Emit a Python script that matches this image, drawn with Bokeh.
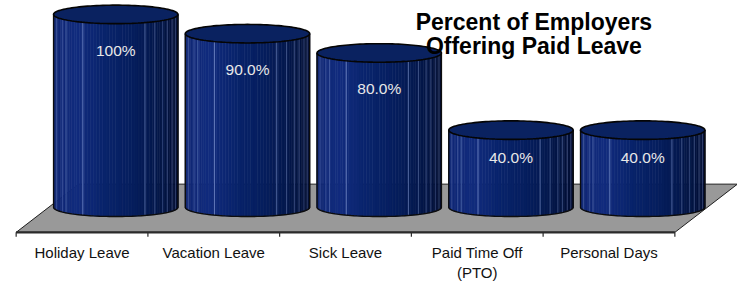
import numpy as np
from bokeh.plotting import figure
from bokeh.models import Range1d
from bokeh.core.properties import value
from bokeh.embed import file_html
from bokeh.resources import INLINE

# ---- data ----
categories = ["Holiday Leave", "Vacation Leave", "Sick Leave", "Paid Time Off\n(PTO)", "Personal Days"]
percent = [100, 90, 80, 40, 40]
value_labels = ["100%", "90.0%", "80.0%", "40.0%", "40.0%"]
title_lines = ["Percent of Employers", "Offering Paid Leave"]

# ---- geometry / style ----
W, H = 737, 282
x_range = Range1d(-16 / 134.6, 737 / 134.6)
y_range = Range1d(-39.0, 107.2)
PY = H / (y_range.end - y_range.start)   # px per percent

DEPTH_X = 0.475      # floor depth (x shift) in category units
FLOOR_FRONT = -13.0
FLOOR_BACK = 12.0
CYL_SHIFT = 0.256    # cylinders stand halfway in depth
R = 0.472            # cylinder half width (category units)
E = 4.8              # ellipse half height (percent units)

FONT = "Liberation Sans"

p = figure(width=W, height=H, x_range=x_range, y_range=y_range,
           output_backend="svg", toolbar_location=None, min_border=0,
           outline_line_color=None, background_fill_color="white",
           border_fill_color="white")
p.axis.visible = False
p.grid.visible = False

n = len(categories)

# floor
p.patch([0, n, n + DEPTH_X, DEPTH_X], [FLOOR_FRONT, FLOOR_FRONT, FLOOR_BACK, FLOOR_BACK],
        fill_color="#999999", line_color="#1e1e1e", line_width=1)
p.line([0, n], [FLOOR_FRONT, FLOOR_FRONT], line_color="#2b2b2b", line_width=2.2)
tick_x = list(range(n + 1))
p.segment(x0=tick_x, y0=[FLOOR_FRONT] * (n + 1), x1=tick_x,
          y1=[FLOOR_FRONT - 4.5 / PY] * (n + 1), line_color="#2b2b2b", line_width=1.2)

# shading stops across the visible face (u = sin(theta))
stops_u = [-1.0, -0.6, -0.2, 0.2, 0.5, 0.8, 1.0]
stops_c = [(16, 40, 118), (18, 44, 126), (9, 36, 108), (6, 31, 96),
           (5, 27, 84), (4, 21, 68), (3, 15, 52)]

def shade(u):
    r = np.interp(u, stops_u, [c[0] for c in stops_c])
    g = np.interp(u, stops_u, [c[1] for c in stops_c])
    b = np.interp(u, stops_u, [c[2] for c in stops_c])
    return "#%02x%02x%02x" % (int(r), int(g), int(b))

facet_angles = [-72, -59, -53, -32, 28, 39, 49, 56, 65, 74]
facet_alpha = [0.3, 0.3, 0.4, 0.65, 0.55, 0.4, 0.35, 0.35, 0.3, 0.3]

th = np.radians(np.linspace(-90, 90, 61))
full = np.radians(np.linspace(0, 360, 121))

for i, v in enumerate(percent):
    cx = i + 0.5 + CYL_SHIFT
    xs, ys, cols = [], [], []
    for a, b in zip(th[:-1], th[1:]):
        xa, xb = cx + R * np.sin(a), cx + R * np.sin(b)
        ya, yb = -E * np.cos(a), -E * np.cos(b)
        xs.append([xa, xb, xb, xa])
        ys.append([ya, yb, v, v])
        cols.append(shade(np.sin((a + b) / 2)))
    p.patches(xs, ys, fill_color=cols, line_color=cols, line_width=0.6)

    # facet highlight lines
    for ang, al in zip(facet_angles, facet_alpha):
        t = np.radians(ang)
        fx = cx + R * np.sin(t)
        p.line([fx, fx], [-E * np.cos(t), v - E * np.cos(t)],
               line_color="#8aa0d8", line_alpha=al, line_width=1)

    # outline of body: left edge, bottom arc, right edge
    ox = [cx - R] + list(cx + R * np.sin(th)) + [cx + R]
    oy = [v] + list(-E * np.cos(th)) + [v]
    p.line(ox, oy, line_color="#0d0d0d", line_width=1.4)

    # top ellipse
    p.patch(cx + R * np.cos(full), v + E * np.sin(full),
            fill_color="#0a2260", line_color="#050505", line_width=1.6)

# value labels inside cylinders
lab_x = [i + 0.5 + CYL_SHIFT for i in range(n)]
lab_y = [v - min(18.5, 0.36 * v) for v in percent]
p.text(x=lab_x, y=lab_y, text=value_labels, text_align="center", text_baseline="middle",
       text_font=value(FONT), text_font_size="15.5px", text_color="#e8e8e8")

# category labels
cat_x = [i + 0.5 for i in range(n)]
p.text(x=cat_x, y=[-19.0] * n, text=categories, text_align="center", text_baseline="top",
       text_font=value(FONT), text_font_size="15px", text_color="#111111",
       text_line_height=1.2)

# title (moved down just enough to be fully visible)
tx = 3.93
p.text(x=[tx, tx], y=[95.8, 83.4], text=title_lines, text_align="center",
       text_baseline="alphabetic", text_font=value(FONT), text_font_size="23px",
       text_font_style="bold", text_color="#000000")

open("out.html", "w").write(file_html(p, INLINE))
